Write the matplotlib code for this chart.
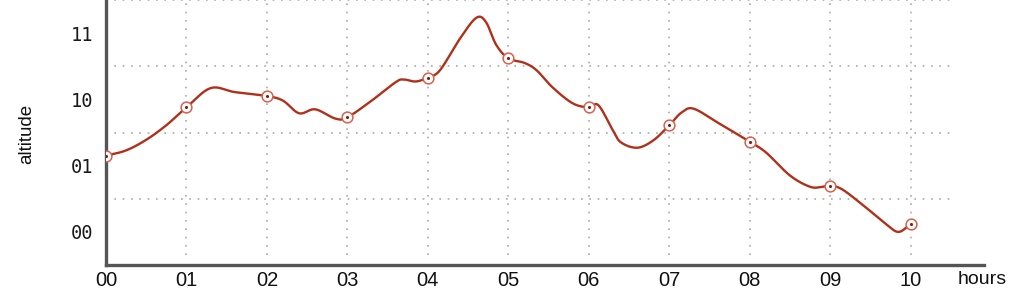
import numpy as np
import matplotlib
matplotlib.use("Agg")
import matplotlib.pyplot as plt

# Hourly marker values
hours = [0, 1, 2, 3, 4, 5, 6, 7, 8, 9, 10]
hour_alt = [1.15, 1.88, 2.05, 1.73, 2.33, 2.62, 1.88, 1.61, 1.36, 0.70, 0.12]

# Dense trace of the smooth line (time in hours, altitude)
trace_t = [0.0, 0.25, 0.5, 0.75, 1.0, 1.3, 1.6, 2.0, 2.2, 2.4, 2.6, 2.85, 3.0,
           3.3, 3.6, 3.7, 3.85, 4.0, 4.15, 4.4, 4.6, 4.72, 4.85, 5.0, 5.2, 5.35,
           5.55, 5.8, 6.0, 6.12, 6.3, 6.4, 6.6, 6.8, 7.0, 7.15, 7.3, 7.6, 7.85,
           8.0, 8.2, 8.5, 8.75, 8.9, 9.0, 9.15, 9.4, 9.7, 9.85, 10.0]
trace_alt = [1.15, 1.23, 1.39, 1.61, 1.88, 2.17, 2.11, 2.05, 1.98, 1.79, 1.85,
             1.71, 1.73, 1.98, 2.26, 2.30, 2.27, 2.33, 2.44, 2.92, 3.23, 3.17,
             2.82, 2.62, 2.55, 2.44, 2.18, 1.94, 1.88, 1.91, 1.53, 1.35, 1.27,
             1.38, 1.61, 1.80, 1.86, 1.65, 1.47, 1.36, 1.20, 0.85, 0.68, 0.68,
             0.70, 0.64, 0.41, 0.11, 0.00, 0.12]

x_labels = ["00", "01", "02", "03", "04", "05", "06", "07", "08", "09", "10"]
y_ticks = [0, 1, 2, 3]
y_labels = ["00", "01", "10", "11"]


def catmull_rom(xs, ys, n=20):
    xs = np.asarray(xs, float)
    ys = np.asarray(ys, float)
    px = np.concatenate([[2 * xs[0] - xs[1]], xs, [2 * xs[-1] - xs[-2]]])
    py = np.concatenate([[2 * ys[0] - ys[1]], ys, [2 * ys[-1] - ys[-2]]])
    ox, oy = [], []
    t = np.linspace(0, 1, n, endpoint=False)
    for i in range(1, len(px) - 2):
        for P, out in ((px, ox), (py, oy)):
            p0, p1, p2, p3 = P[i - 1], P[i], P[i + 1], P[i + 2]
            out.extend(0.5 * ((2 * p1) + (-p0 + p2) * t
                              + (2 * p0 - 5 * p1 + 4 * p2 - p3) * t ** 2
                              + (-p0 + 3 * p1 - 3 * p2 + p3) * t ** 3))
    ox.append(xs[-1]); oy.append(ys[-1])
    return np.array(ox), np.array(oy)


W, H = 1024, 303
fig = plt.figure(figsize=(W / 100, H / 100), dpi=100)
ax = fig.add_axes([106 / W, (H - 265) / H, (984 - 106) / W, 265 / H])
ax.set_xlim(0, 10.91)
ax.set_ylim(-0.5, 3.5)

grid_kw = dict(color="#aaaaaa", linestyle=(0, (1, 4)), linewidth=1.2, zorder=1)
for h in hours[1:]:
    ax.plot([h, h], [-0.35, 3.5], **grid_kw)
for g in [0.5, 1.5, 2.5, 3.5]:
    ax.plot([0, 10.55], [g, g], **grid_kw)

sx, sy = catmull_rom(trace_t, trace_alt)
ax.plot(sx, sy, color="#b0301a", linewidth=1.7, zorder=3, solid_capstyle="round")
ax.scatter(hours, hour_alt, s=60, facecolor="white", edgecolor="#d9604d",
           linewidth=1.1, zorder=4)
ax.scatter(hours, hour_alt, s=5, color="#7a2012", zorder=5, linewidth=0)

for s in ["top", "right"]:
    ax.spines[s].set_visible(False)
for s in ["left", "bottom"]:
    ax.spines[s].set_color("#555555")
    ax.spines[s].set_linewidth(2.4)

ax.set_xticks(hours)
ax.set_xticklabels(x_labels, fontsize=14.5, family="Liberation Sans", color="#111111")
ax.set_yticks(y_ticks)
ax.set_yticklabels(y_labels, fontsize=13.5, family="DejaVu Sans Mono", color="#1a1a1a")
ax.tick_params(axis="both", length=0)
ax.tick_params(axis="x", pad=4)
ax.tick_params(axis="y", pad=9)

fig.text(982 / W, 1 - 279 / H, "hours", fontsize=14, family="Liberation Sans",
         color="#111111", ha="center", va="center")
fig.text(27 / W, 1 - 134 / H, "altitude", fontsize=13.5, family="Liberation Sans",
         color="#111111", ha="center", va="center", rotation=90)

fig.savefig("out.png", dpi=100)
